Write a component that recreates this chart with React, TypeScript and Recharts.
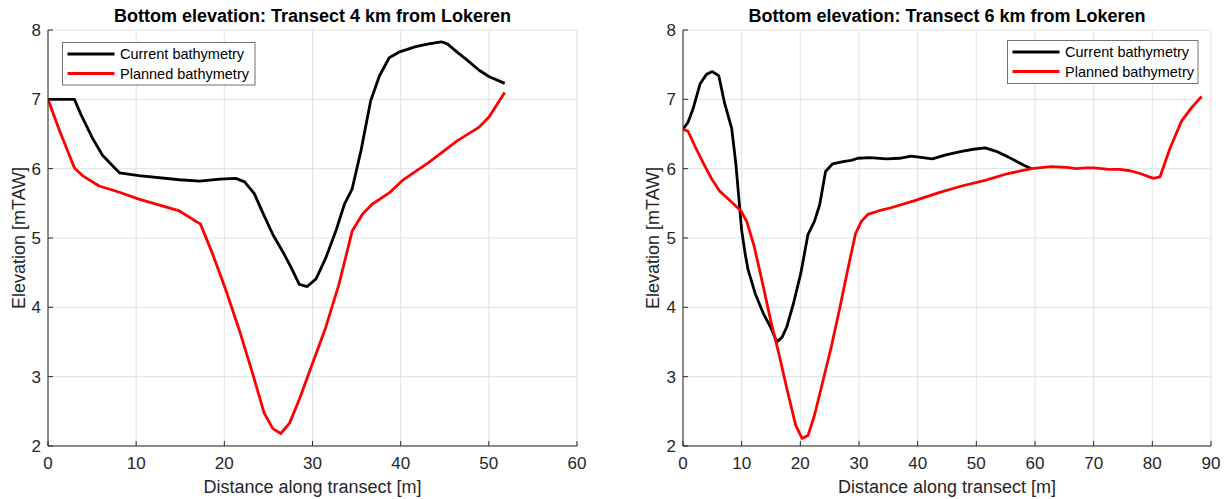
import { LineChart, Line, XAxis, YAxis, CartesianGrid } from "recharts"

// Transect 4 km from Lokeren
const T4_CURRENT_X = [0, 3, 3.7, 5, 6.2, 8.1, 10.3, 14.9, 17.2, 19.5, 21.3, 22.3, 23.4, 24.3, 25.5, 26.6, 27.6, 28.5, 29.4, 30.4, 31.5, 32.7, 33.6, 34.5, 35.5, 36.6, 37.6, 38.7, 39.8, 41.7, 43.2, 44.6, 45.3, 46.4, 47.4, 48.9, 50, 51.8]
const T4_CURRENT_Y = [7, 7, 6.79, 6.45, 6.19, 5.94, 5.9, 5.84, 5.82, 5.85, 5.86, 5.81, 5.64, 5.38, 5.05, 4.81, 4.57, 4.33, 4.3, 4.41, 4.71, 5.12, 5.48, 5.71, 6.26, 6.98, 7.34, 7.6, 7.68, 7.76, 7.8, 7.83, 7.8, 7.68, 7.58, 7.42, 7.33, 7.23]
const T4_PLANNED_X = [0, 1.3, 3, 3.9, 5.8, 8.1, 10.3, 14.9, 17.3, 18.7, 20.2, 21.7, 23.2, 24.5, 25.5, 26.4, 27.4, 28.5, 30, 31.5, 33, 34.5, 35.7, 36.8, 38.7, 40.2, 43.2, 46.4, 48.9, 50, 51.8]
const T4_PLANNED_Y = [7, 6.55, 6.01, 5.9, 5.75, 5.66, 5.56, 5.39, 5.2, 4.76, 4.24, 3.67, 3.05, 2.48, 2.25, 2.18, 2.33, 2.67, 3.19, 3.71, 4.33, 5.1, 5.35, 5.49, 5.65, 5.83, 6.09, 6.4, 6.6, 6.74, 7.1]

// Transect 6 km from Lokeren
const T6_CURRENT_X = [0, 0.86, 1.7, 2.9, 4, 5, 6.1, 7.1, 8.3, 9, 9.6, 10, 10.6, 11.1, 12.3, 13.7, 14.9, 16, 16.9, 17.7, 18.9, 20.1, 21.3, 22.4, 23.3, 24.3, 25.5, 27.3, 28.7, 29.8, 31.8, 34.7, 36.9, 38.9, 40.9, 42.5, 44.8, 47.5, 49.5, 51.5, 53.4, 55.4, 58.1, 59.4]
const T6_CURRENT_Y = [6.57, 6.67, 6.86, 7.22, 7.36, 7.4, 7.34, 6.94, 6.58, 6.08, 5.5, 5.11, 4.77, 4.54, 4.2, 3.91, 3.72, 3.5, 3.57, 3.72, 4.08, 4.5, 5.05, 5.24, 5.48, 5.96, 6.07, 6.1, 6.12, 6.15, 6.16, 6.14, 6.15, 6.18, 6.16, 6.14, 6.2, 6.25, 6.28, 6.3, 6.25, 6.17, 6.05, 6]
const T6_PLANNED_X = [0, 0.86, 2, 3.4, 4.9, 6.2, 8, 9.9, 10.9, 12.1, 13.5, 15, 16.4, 17.7, 19.2, 20.3, 21.3, 22.4, 23.8, 25.2, 26.7, 28.1, 29.4, 30.4, 31.5, 33.3, 35.6, 39.5, 43.5, 47.5, 51.5, 55.4, 59.4, 62.7, 65.4, 67, 68.7, 70, 72.6, 74.4, 76.2, 77.9, 80.2, 81.3, 83, 85, 86.7, 88.4]
const T6_PLANNED_Y = [6.57, 6.54, 6.33, 6.09, 5.85, 5.68, 5.54, 5.39, 5.23, 4.89, 4.37, 3.79, 3.31, 2.83, 2.3, 2.11, 2.15, 2.44, 2.92, 3.4, 3.98, 4.55, 5.06, 5.24, 5.34, 5.39, 5.44, 5.54, 5.65, 5.75, 5.83, 5.93, 6, 6.03, 6.02, 6, 6.01, 6.01, 5.99, 5.99, 5.97, 5.93, 5.86, 5.88, 6.29, 6.69, 6.88, 7.04]

const SERIES_NAMES = ["Current bathymetry", "Planned bathymetry"]
const SERIES_COLORS = ["#000000", "#ff0000"]

const Y_TICKS = [2, 3, 4, 5, 6, 7, 8]
const T4_X_TICKS = [0, 10, 20, 30, 40, 50, 60]
const T6_X_TICKS = [0, 10, 20, 30, 40, 50, 60, 70, 80, 90]

const FONT = '"Liberation Sans", Arial, Helvetica, sans-serif'
const AXIS = "#262626"
const W = 615
const H = 499
const TOP = 30
const BOTTOM = 446

const zip = (xs: number[], ys: number[]) => xs.map((x, i) => ({ x, y: ys[i] }))

type PanelProps = {
  left: number
  plotLeft: number
  plotRight: number
  title: string
  xTicks: number[]
  series: { x: number; y: number }[][]
  legend: { x: number; y: number; w: number; h: number }
  yLabelX: number
}

function Panel({ left, plotLeft, plotRight, title, xTicks, series, legend, yLabelX }: PanelProps) {
  const xMax = xTicks[xTicks.length - 1]
  const tickStyle = { fill: AXIS, fontSize: 17, fontFamily: FONT }
  const midX = (plotLeft + plotRight) / 2
  const hidden = () => null

  return (
    <div style={{ position: "absolute", left, top: 0, width: W, height: H }}>
      <LineChart
        width={W}
        height={H}
        margin={{ top: TOP, right: W - plotRight, bottom: H - BOTTOM - 30, left: 0 }}
      >
        <CartesianGrid stroke="#e2e2e2" strokeWidth={1} />
        <XAxis
          type="number"
          dataKey="x"
          domain={[0, xMax]}
          ticks={xTicks}
          interval={0}
          allowDataOverflow
          height={30}
          stroke={AXIS}
          tickSize={-5}
          tickMargin={16}
          tick={tickStyle}
        />
        <XAxis
          xAxisId="top"
          orientation="top"
          type="number"
          domain={[0, xMax]}
          ticks={xTicks}
          interval={0}
          allowDataOverflow
          height={0}
          stroke={AXIS}
          tickSize={-5}
          tick={hidden}
        />
        <YAxis
          type="number"
          domain={[2, 8]}
          ticks={Y_TICKS}
          interval={0}
          allowDataOverflow
          width={plotLeft}
          stroke={AXIS}
          tickSize={-5}
          tickMargin={12}
          tick={tickStyle}
        />
        <YAxis
          yAxisId="right"
          orientation="right"
          type="number"
          domain={[2, 8]}
          ticks={Y_TICKS}
          interval={0}
          allowDataOverflow
          width={0}
          stroke={AXIS}
          tickSize={-5}
          tick={hidden}
        />
        {series.map((pts, i) => (
          <Line
            key={SERIES_NAMES[i]}
            data={pts}
            dataKey="y"
            type="linear"
            stroke={SERIES_COLORS[i]}
            strokeWidth={2.8}
            strokeLinejoin="round"
            dot={false}
            activeDot={false}
            isAnimationActive={false}
          />
        ))}
      </LineChart>

      {/* titles, axis labels and legend */}
      <svg
        width={W}
        height={H}
        style={{ position: "absolute", left: 0, top: 0, pointerEvents: "none" }}
        fontFamily={FONT}
      >
        <text x={midX} y={22} textAnchor="middle" fontSize={18} fontWeight="bold" fill="#000">
          {title}
        </text>
        <text x={midX} y={493} textAnchor="middle" fontSize={18} fill={AXIS}>
          Distance along transect [m]
        </text>
        <text
          x={0}
          y={0}
          transform={`translate(${yLabelX + 6.5},${(TOP + BOTTOM) / 2}) rotate(-90)`}
          textAnchor="middle"
          fontSize={18}
          fill={AXIS}
        >
          Elevation [mTAW]
        </text>
        <rect x={legend.x} y={legend.y} width={legend.w} height={legend.h} fill="#fff" stroke="#707070" strokeWidth={1} />
        {SERIES_NAMES.map((name, i) => {
          const ly = legend.y + 11.5 + i * 19.5
          return (
            <g key={name}>
              <line x1={legend.x + 5} x2={legend.x + 52} y1={ly} y2={ly} stroke={SERIES_COLORS[i]} strokeWidth={2.8} />
              <text x={legend.x + 57.5} y={ly + 5} fontSize={14.5} fill="#000">
                {name}
              </text>
            </g>
          )
        })}
      </svg>
    </div>
  )
}

export default function App() {
  return (
    <div style={{ position: "absolute", left: 0, top: 0, width: 1230, height: H, background: "#fff" }}>
      <Panel
        left={0}
        plotLeft={48}
        plotRight={577}
        title="Bottom elevation: Transect 4 km from Lokeren"
        xTicks={T4_X_TICKS}
        series={[zip(T4_CURRENT_X, T4_CURRENT_Y), zip(T4_PLANNED_X, T4_PLANNED_Y)]}
        legend={{ x: 62.5, y: 42.5, w: 192.5, h: 42.5 }}
        yLabelX={18}
      />
      <Panel
        left={615}
        plotLeft={68}
        plotRight={596}
        title="Bottom elevation: Transect 6 km from Lokeren"
        xTicks={T6_X_TICKS}
        series={[zip(T6_CURRENT_X, T6_CURRENT_Y), zip(T6_PLANNED_X, T6_PLANNED_Y)]}
        legend={{ x: 392.5, y: 40.5, w: 190.5, h: 43 }}
        yLabelX={37}
      />
    </div>
  )
}
